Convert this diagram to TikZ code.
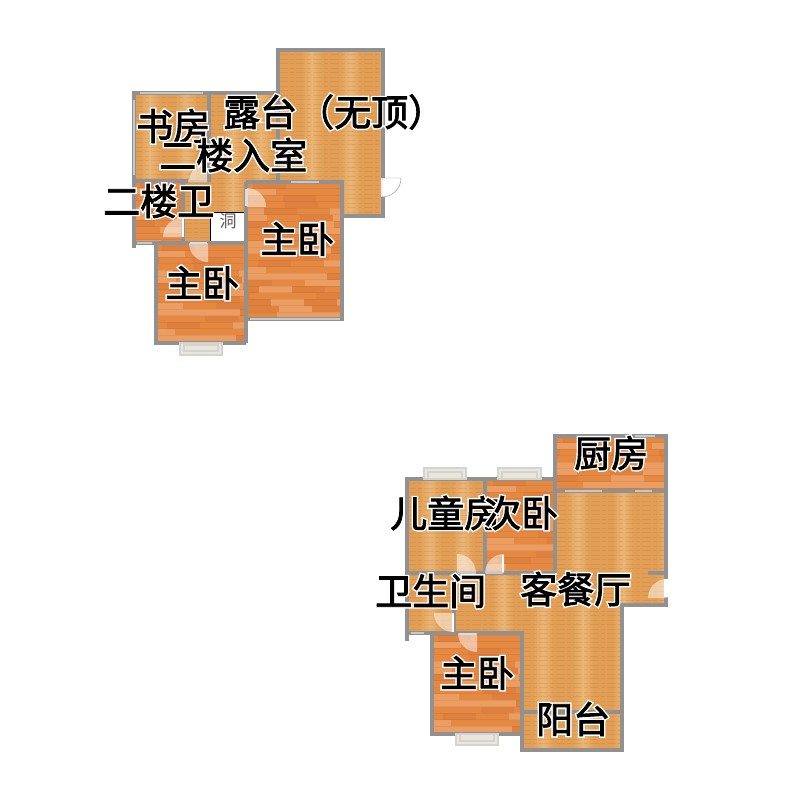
\documentclass[tikz,border=0pt]{standalone}
\usepackage{fontspec}
\setmainfont{Noto Sans CJK SC}
\usetikzlibrary{calc}
\definecolor{wallc}{RGB}{145,145,145}
\definecolor{winc}{RGB}{200,200,200}
\definecolor{sillc}{RGB}{234,230,218}
\definecolor{lightA}{RGB}{226,158,84}
\definecolor{lightB}{RGB}{234,182,118}
\definecolor{redA}{RGB}{228,136,66}
\definecolor{redB}{RGB}{236,158,98}
\definecolor{redC}{RGB}{222,128,62}
\newcommand{\halo}[1]{\rlap{\color{white}\addfontfeature{FakeBold=10}#1}\addfontfeature{FakeBold=2.2}#1}
\newcommand{\lightfloor}[6]{% x1 y1 x2 y2 firstcentre spacing
  \begin{scope}
    \clip (#1,#2) rectangle (#3,#4);
    \fill[lightA] (#1,#2) rectangle (#3,#4);
    \foreach \k in {0,...,5}{
      \pgfmathsetmacro{\xm}{#5+\k*#6}
      \shade[left color=lightA,right color=lightB] (\xm-11,#2) rectangle (\xm,#4);
      \shade[left color=lightB,right color=lightA] (\xm,#2) rectangle (\xm+11,#4);
    }
    \pgfmathsetmacro{\ysecond}{#2+4.5}
    \foreach \yy in {#2,\ysecond,...,#4}{
      \draw[brown!70!black,opacity=.13,line width=.9,dash pattern=on 9 off 2 on 4 off 2] (#1,\yy) -- (#3,\yy);
    }
  \end{scope}}
\newcommand{\redfloor}[4]{% x1 y1 x2 y2
  \begin{scope}
    \clip (#1,#2) rectangle (#3,#4);
    \fill[redA] (#1,#2) rectangle (#3,#4);
    \pgfmathsetmacro{\ysecond}{#2+6.5}
    \pgfmathsetseed{7}
    \foreach \yy in {#2,\ysecond,...,#4}{
      \pgfmathsetmacro{\off}{random(0,30)}
      \foreach \i in {0,...,4}{
        \pgfmathsetmacro{\xa}{#1-\off+33*\i}
        \pgfmathtruncatemacro{\pick}{random(1,3)}
        \ifcase\pick\or\def\cc{redA}\or\def\cc{redB}\or\def\cc{redC}\fi
        \fill[\cc] (\xa,\yy) rectangle ++(33,6.5);
      }
      \draw[brown!60!black,opacity=.10,line width=.5] (#1,\yy) -- (#3,\yy);
    }
  \end{scope}}
\tikzset{
  x=1pt,y=-1pt,
  wall/.style={line width=3.5pt,draw=wallc},
  wallwin/.style={line width=2.5pt,draw=winc},
  sill/.style={draw=winc!80!white,fill=sillc,line width=1.2pt},
  doorswing/.style={fill=white,fill opacity=.5,draw=none},
  doorleaf/.style={line width=2pt,draw=white},
  roomlabel/.style={font=\fontsize{37}{37}\selectfont,inner sep=0pt,text=black},
}
\begin{document}
\begin{tikzpicture}
\useasboundingbox (0,0) rectangle (800,800);
\fill[white] (0,0) rectangle (800,800);

% ---------- upper plan floors
\lightfloor{279}{50}{383}{216}{312}{38}
\lightfloor{183}{93}{279}{243}{233}{28}
\lightfloor{134}{93}{209}{181}{150}{36}
\redfloor{134}{181}{181}{243}
\redfloor{247}{182}{342}{319}
\redfloor{156}{244}{246}{343}
\fill[white] (210,212) rectangle (246,242);
\draw[line width=.8pt,black] (210,212) rectangle (246,242);
\node[font=\fontsize{17}{17}\selectfont,text=black!65,inner sep=0pt] (hole) at (228,221) {洞};

% upper walls
\draw[wall] (278,181) -- (278,50) -- (383,50) -- (383,216) -- (343,216);
\draw[wall] (278,93) -- (134,93) -- (134,248);
\draw[wall] (134,181) -- (188,181);
\draw[wall] (209,93) -- (209,182);
\draw[wall] (183,181) -- (183,243);
\draw[wall] (134,243) -- (246,243);
\draw[wall] (246,182) -- (246,343);
\draw[wall] (246,182) -- (342,182) -- (342,319) -- (246,319);
\draw[wall] (156,243) -- (156,343) -- (246,343);
\draw[wallwin] (140,93) -- (203,93);
\draw[wallwin] (291,182) -- (319,182);
\draw[wallwin] (134,100) -- (134,175);
\draw[wallwin] (137,243) -- (152,243);
\draw[wallwin] (250,319) -- (340,319);
\draw[sill] (180,343) rectangle (222,355);
\draw[sill] (184,345) rectangle (218,351);

% upper doors
\fill[doorswing] (207,182) -- (189,182) arc[start angle=180,end angle=270,radius=18] -- cycle;
\draw[doorleaf,draw=winc] (189,181) -- (207,181);
\fill[doorswing] (182,237) -- (163,237) arc[start angle=180,end angle=270,radius=19] -- cycle;
\draw[doorleaf] (183,218) -- (183,237);
\fill[doorswing] (208,243) -- (189,243) arc[start angle=180,end angle=90,radius=19] -- cycle;
\draw[doorleaf,draw=winc!60!white] (190,243) -- (207,243);
\fill[doorswing] (247,207) -- (247,188) arc[start angle=270,end angle=360,radius=19] -- cycle;
\draw[doorleaf,draw=winc!60!white,line width=3pt] (246,189) -- (246,206);
\draw[doorleaf,line width=3.8pt] (383,178) -- (383,197);
\draw[line width=.4pt,black!45,fill=white] (382,178) -- (401,178) arc[start angle=0,end angle=90,radius=19] -- cycle;

% ---------- lower plan floors
\redfloor{557}{436}{666}{490}
\lightfloor{557}{492}{666}{605}{578}{45}
\lightfloor{455}{575}{522}{633}{503}{40}
\lightfloor{522}{575}{620}{712}{543}{40}
\lightfloor{522}{712}{620}{749}{543}{40}
\lightfloor{407}{479}{483}{574}{430}{33}
\redfloor{487}{479}{553}{573}
\lightfloor{407}{575}{453}{632}{430}{33}
\redfloor{432}{635}{520}{732}

% lower walls
\draw[wall] (555,479) -- (555,436) -- (666,436) -- (666,605) -- (622,605) -- (622,750) -- (522,750) -- (522,734);
\draw[wall] (555,491) -- (666,491);
\draw[wall] (555,479) -- (407,479) -- (407,641);
\draw[wall] (485,479) -- (485,572);
\draw[wall] (555,479) -- (555,573);
\draw[wall] (407,573) -- (555,573);
\draw[wall] (648,573) -- (666,573);
\draw[wall] (407,633) -- (522,633) -- (522,750);
\draw[wall] (454,573) -- (454,633);
\draw[wall] (432,633) -- (432,734) -- (522,734);
\draw[wall] (522,712) -- (622,712);
\draw[wallwin] (565,491) -- (602,491);
\draw[wallwin] (635,491) -- (652,491);
\draw[wallwin] (635,436) -- (655,436);
\draw[wallwin] (411,633) -- (424,633);
\draw[sill] (424,468) rectangle (466,479);
\draw[sill] (428,472) rectangle (462,479);
\draw[sill] (498,468) rectangle (541,479);
\draw[sill] (502,472) rectangle (537,479);
\draw[sill] (456,734) rectangle (498,745);
\draw[sill] (460,734) rectangle (494,741);

% lower doors
\fill[doorswing] (457,573) -- (457,554) arc[start angle=270,end angle=360,radius=19] -- cycle;
\draw[doorleaf,draw=winc] (458,573) -- (476,573);
\fill[doorswing] (504,573) -- (504,554) arc[start angle=270,end angle=180,radius=19] -- cycle;
\draw[doorleaf] (503,555) -- (503,572);
\draw[doorleaf,draw=winc] (486,573) -- (503,573);
\fill[doorswing] (453,613) -- (434,613) arc[start angle=180,end angle=90,radius=19] -- cycle;
\draw[doorleaf] (453,613) -- (453,632);
\fill[doorswing] (477,633) -- (458,633) arc[start angle=180,end angle=90,radius=19] -- cycle;
\draw[doorleaf,draw=winc!60!white] (459,634) -- (476,634);
\fill[doorswing] (667,598) -- (648,598) arc[start angle=180,end angle=270,radius=19] -- cycle;
\draw[doorleaf,line width=3.5pt] (666,579) -- (666,597);

% ---------- labels
\node[roomlabel,anchor=west] (study) at (136,126) {\halo{书房}};
\node[roomlabel,anchor=west] (terrace) at (223,112) {\halo{露台（无顶）}};
\node[roomlabel,anchor=west] (entry) at (159,155) {\halo{二楼入室}};
\node[roomlabel,anchor=west] (bath2) at (103,201) {\halo{二楼卫}};
\node[roomlabel,anchor=west] (bedA) at (260,239) {\halo{主卧}};
\node[roomlabel,anchor=west] (bedB) at (165,283) {\halo{主卧}};
\node[roomlabel,anchor=west] (kitchen) at (574,453) {\halo{厨房}};
\node[roomlabel,anchor=west] (kids) at (390,513) {\halo{儿童房}};
\node[roomlabel,anchor=west] (second) at (484,513) {\halo{次卧}};
\node[roomlabel,anchor=west] (bath1) at (375,591) {\halo{卫生间}};
\node[roomlabel,anchor=west] (living) at (520,589) {\halo{客餐厅}};
\node[roomlabel,anchor=west] (bedC) at (440,673) {\halo{主卧}};
\node[roomlabel,anchor=west] (balcony) at (536,719) {\halo{阳台}};
\end{tikzpicture}
\end{document}
